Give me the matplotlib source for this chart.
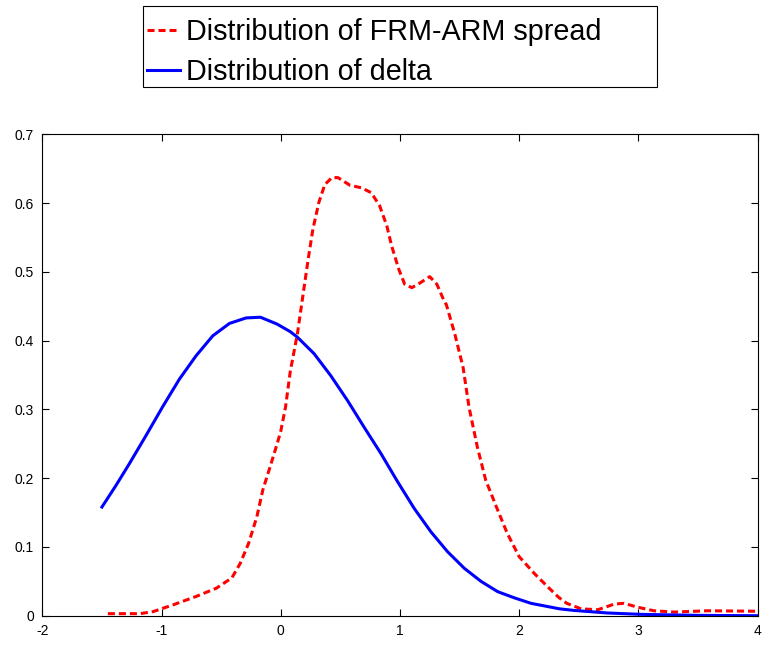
import matplotlib
matplotlib.use("Agg")
import matplotlib.pyplot as plt
from matplotlib.patches import Rectangle

# Distribution of FRM-ARM spread (red dashed)
spread_x = [-1.45, -1.18, -1.07, -0.90, -0.71, -0.54, -0.41, -0.34, -0.27, -0.20,
            -0.15, -0.09, -0.03, 0.00, 0.04, 0.08, 0.14, 0.19, 0.23, 0.27,
            0.32, 0.37, 0.43, 0.48, 0.58, 0.68, 0.76, 0.83, 0.89, 0.93,
            0.99, 1.04, 1.10, 1.17, 1.25, 1.31, 1.36, 1.39, 1.46, 1.53,
            1.58, 1.65, 1.72, 1.81, 1.90, 2.00, 2.13, 2.24, 2.33, 2.40,
            2.52, 2.66, 2.80, 2.88, 2.99, 3.13, 3.30, 3.58, 4.00]
spread_y = [0.003, 0.003, 0.006, 0.016, 0.028, 0.040, 0.055, 0.076, 0.105, 0.144,
            0.183, 0.216, 0.250, 0.268, 0.303, 0.355, 0.410, 0.470, 0.518, 0.562,
            0.601, 0.627, 0.637, 0.637, 0.626, 0.622, 0.615, 0.596, 0.567, 0.538,
            0.504, 0.482, 0.477, 0.484, 0.493, 0.482, 0.462, 0.452, 0.410, 0.361,
            0.303, 0.245, 0.197, 0.158, 0.120, 0.086, 0.061, 0.042, 0.027, 0.018,
            0.010, 0.0087, 0.017, 0.018, 0.0126, 0.0072, 0.0053, 0.0072, 0.0065]

# Distribution of delta (blue solid)
delta_x = [-1.50, -1.38, -1.27, -1.13, -0.99, -0.85, -0.71, -0.57, -0.43, -0.29,
           -0.17, -0.03, 0.08, 0.14, 0.28, 0.42, 0.56, 0.70, 0.84, 0.98,
           1.12, 1.26, 1.40, 1.54, 1.68, 1.82, 1.96, 2.10, 2.34, 2.46,
           2.74, 3.02, 3.50, 4.00]
delta_y = [0.158, 0.190, 0.221, 0.262, 0.304, 0.344, 0.378, 0.407, 0.425, 0.433,
           0.434, 0.424, 0.413, 0.405, 0.381, 0.349, 0.313, 0.274, 0.236, 0.195,
           0.156, 0.122, 0.093, 0.069, 0.050, 0.035, 0.026, 0.018, 0.010, 0.0077,
           0.004, 0.002, 0.0005, 0.0]

x_ticks = [-2, -1, 0, 1, 2, 3, 4]
y_ticks = [0, 0.1, 0.2, 0.3, 0.4, 0.5, 0.6, 0.7]
y_tick_labels = ["0", "0.1", "0.2", "0.3", "0.4", "0.5", "0.6", "0.7"]
labels = ["Distribution of FRM-ARM spread", "Distribution of delta"]

plt.rcParams['font.family'] = ['Liberation Sans', 'DejaVu Sans']

W, H = 764, 656
fig = plt.figure(figsize=(W / 100, H / 100), dpi=100)
ax = fig.add_axes([0.0554, 0.0614, 0.9361, 0.7339])

l1, = ax.plot(spread_x, spread_y, color='#ff0000', lw=2.2,
              linestyle=(0, (2.3, 1.3)), label=labels[0])
l2, = ax.plot(delta_x, delta_y, color='#0000ff', lw=2.2, label=labels[1])

ax.set_xlim(-2, 4)
ax.set_ylim(0, 0.7)
ax.set_xticks(x_ticks)
ax.set_xticklabels([str(t) for t in x_ticks])
ax.set_yticks(y_ticks)
ax.set_yticklabels(y_tick_labels)
ax.tick_params(direction='in', length=5, width=0.8, top=True, right=True,
               labelsize=10, pad=6)
for s in ax.spines.values():
    s.set_linewidth(0.8)

# legend box (frame drawn separately to keep the wide right padding)
fig.patches.append(Rectangle((143 / W, 1 - 87 / H), 514 / W, 81 / H,
                             transform=fig.transFigure, fill=True,
                             facecolor='white', edgecolor='black', lw=0.8,
                             zorder=1))
leg = fig.legend(handles=[l1, l2], labels=labels, loc='upper left',
                 bbox_to_anchor=(147 / W, 1 - 18 / H), bbox_transform=fig.transFigure,
                 fontsize=20.7, frameon=False,
                 handlelength=1.15, handletextpad=0.2, labelspacing=0.42,
                 borderpad=0.0, borderaxespad=0)
leg.set_zorder(2)

fig.savefig("out.png", dpi=100)
